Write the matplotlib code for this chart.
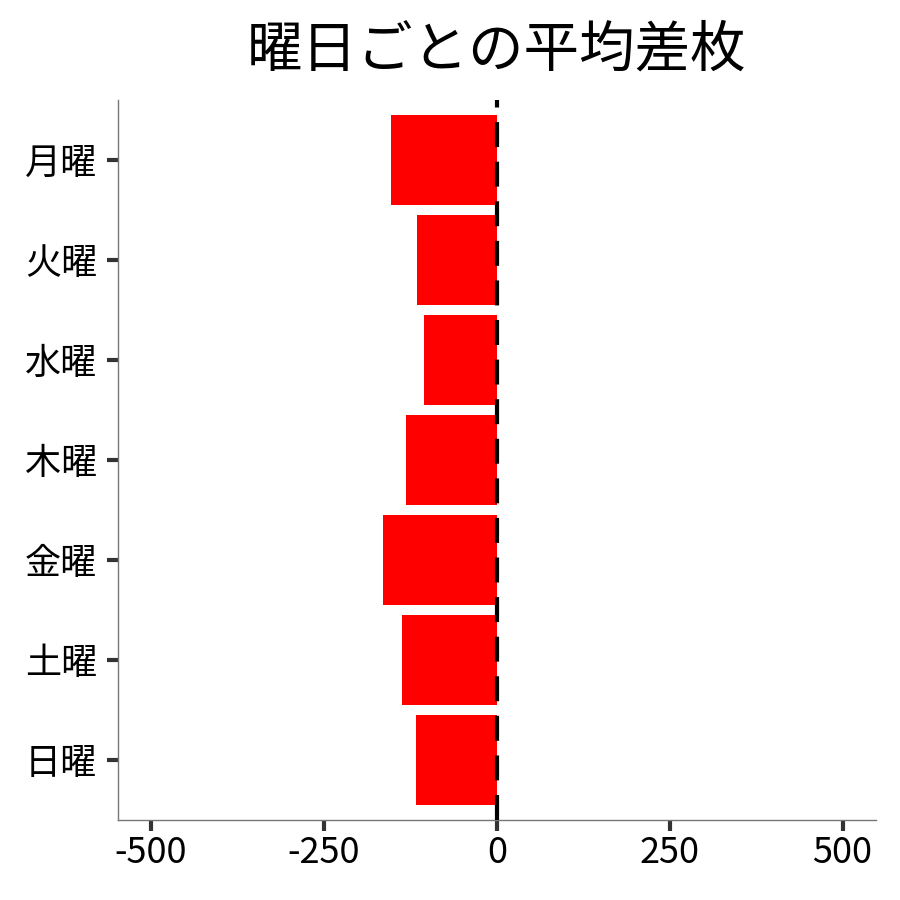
import matplotlib.pyplot as plt
import numpy as np

plt.rcParams['font.family'] = ['Noto Sans CJK JP', 'DejaVu Sans']
plt.rcParams['axes.unicode_minus'] = False

# データ
days = ['月曜', '火曜', '水曜', '木曜', '金曜', '土曜', '日曜']
avg_diff = [-153, -116, -106, -132, -165, -137, -117]

fig = plt.figure(figsize=(9, 9), dpi=100)
ax = fig.add_axes([0.131, 0.089, 0.842, 0.80])

y = np.arange(len(days))
ax.barh(y, avg_diff, height=0.9, color='#ff0000', zorder=2)
ax.axvline(0, color='black', linestyle=(0, (6, 3.5)), linewidth=3, zorder=3)

ax.set_yticks(y)
ax.set_yticklabels(days)
ax.set_ylim(6.6, -0.6)
ax.set_xlim(-548, 548)
ax.set_xticks([-500, -250, 0, 250, 500])

ax.tick_params(axis='both', labelsize=26, width=3, length=8, color='#333333')
ax.tick_params(axis='y', pad=7)
ax.tick_params(axis='x', pad=3)
for side in ['top', 'right']:
    ax.spines[side].set_visible(False)
for side in ['left', 'bottom']:
    ax.spines[side].set_color('#777777')
    ax.spines[side].set_linewidth(1)

ax.set_title('曜日ごとの平均差枚', fontsize=40, pad=24)

plt.savefig('out.png', dpi=100)
